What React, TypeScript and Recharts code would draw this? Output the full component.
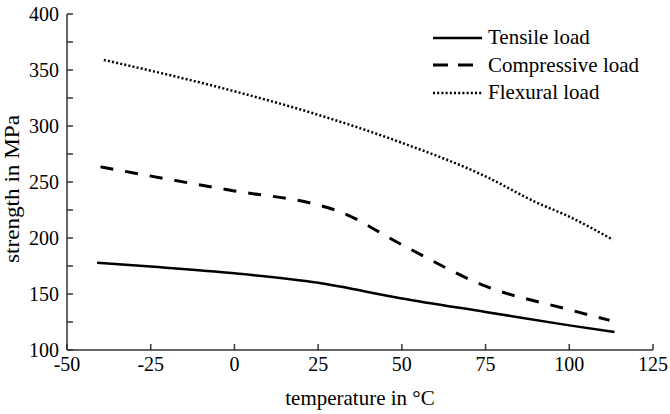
import { LineChart, Line, XAxis, YAxis, Legend, Label } from "recharts"

// temperature (°C) / strength (MPa)
const tensileTemps = [-41, -25, 0, 25, 50, 75, 100, 113.5]
const tensileStrength = [178, 174.5, 168.5, 160, 146, 134, 122, 116]

const compressiveTemps = [-40, 0, 25, 31, 50, 75, 100, 112]
const compressiveStrength = [263.5, 242, 229.5, 224, 194, 157, 136, 126.5]

const flexuralTemps = [-39, 0, 25, 50, 75, 90, 100, 113]
const flexuralStrength = [359, 331, 310, 285, 255, 232, 219, 198.5]

const seriesNames = ["Tensile load", "Compressive load", "Flexural load"]
const xTicks = [-50, -25, 0, 25, 50, 75, 100, 125]
const yTicks = [100, 125, 150, 175, 200, 225, 250, 275, 300, 325, 350, 375, 400]

const toRows = (temps: number[], values: number[]) =>
  temps.map((t, i) => ({ t, v: values[i] }))

const tensile = toRows(tensileTemps, tensileStrength)
const compressive = toRows(compressiveTemps, compressiveStrength)
const flexural = toRows(flexuralTemps, flexuralStrength)

const FONT = "'Liberation Serif', 'Times New Roman', serif"
const AXIS = "#333"
const tickStyle = { fill: "#000", fontSize: 20, fontFamily: FONT }

const lineStyles = [
  { width: 2.5, dash: undefined as string | undefined },
  { width: 3, dash: "13 12" },
  { width: 2.5, dash: "2 2.2" },
]

const legendDash = [undefined, "15 10", "2 2.2"]

function LegendBox() {
  return (
    <div style={{ fontFamily: FONT, fontSize: 21, color: "#000" }}>
      {seriesNames.map((name, i) => (
        <div
          key={name}
          style={{ display: "flex", alignItems: "center", height: 27.5 }}
        >
          <svg width={50} height={10} style={{ display: "block" }}>
            <line
              x1={0}
              x2={49}
              y1={5}
              y2={5}
              stroke="#000"
              strokeWidth={lineStyles[i].width}
              strokeDasharray={legendDash[i]}
            />
          </svg>
          <span style={{ marginLeft: 5, lineHeight: "21px", fontFamily: FONT }}>
            {name}
          </span>
        </div>
      ))}
    </div>
  )
}

// x tick labels sit a little lower than recharts puts them
function XTick(props: any) {
  return (
    <text
      x={props.x}
      y={371}
      textAnchor="middle"
      fontSize={20}
      fontFamily={FONT}
      fill="#000"
    >
      {props.payload.value}
    </text>
  )
}

function YTitle() {
  const cx = 19
  const cy = 189
  return (
    <text
      x={cx}
      y={cy}
      transform={`rotate(-90 ${cx} ${cy})`}
      textAnchor="middle"
      fontSize={20}
      fontFamily={FONT}
      fill="#000"
      textLength={148}
      lengthAdjust="spacingAndGlyphs"
    >
      strength in MPa
    </text>
  )
}

export default function App() {
  return (
    <div style={{ position: "absolute", left: 0, top: 0, fontFamily: FONT }}>
      <LineChart
        width={670}
        height={414}
        margin={{ top: 14, right: 17, bottom: 24, left: 7 }}
        style={{ fontFamily: FONT }}
      >
        <XAxis
          xAxisId="b"
          type="number"
          dataKey="t"
          domain={[-50, 125]}
          ticks={xTicks}
          allowDataOverflow
          stroke={AXIS}
          strokeWidth={1.5}
          tickSize={-6}
          tick={XTick}
          height={40}
        >
          <Label
            value="temperature in °C"
            position="bottom"
            offset={0}
            fill="#000"
            fontSize={21}
            fontFamily={FONT}
          />
        </XAxis>
        <XAxis
          xAxisId="top"
          orientation="top"
          type="number"
          domain={[-50, 125]}
          ticks={xTicks}
          stroke={AXIS}
          strokeWidth={1.5}
          tick={false}
          tickLine={false}
          height={0}
        />
        <YAxis
          yAxisId="l"
          type="number"
          domain={[100, 400]}
          ticks={yTicks}
          interval={0}
          allowDataOverflow
          stroke={AXIS}
          strokeWidth={1.5}
          tickSize={-6}
          tickMargin={14}
          tick={tickStyle}
          tickFormatter={(v: number) => (v % 50 === 0 ? String(v) : "")}
          width={60}
        >
          <Label content={YTitle} />
        </YAxis>
        <YAxis
          yAxisId="r"
          orientation="right"
          type="number"
          domain={[100, 400]}
          stroke={AXIS}
          strokeWidth={1.5}
          tick={false}
          tickLine={false}
          width={0}
        />
        <Legend
          layout="horizontal"
          verticalAlign="middle"
          align="center"
          wrapperStyle={{ position: "absolute", left: 433, top: 24, width: 230 }}
          content={() => <LegendBox />}
        />
        <Line
          xAxisId="b"
          yAxisId="l"
          data={tensile}
          dataKey="v"
          name={seriesNames[0]}
          type="monotone"
          stroke="#000"
          strokeWidth={lineStyles[0].width}
          dot={false}
          activeDot={false}
          isAnimationActive={false}
        />
        <Line
          xAxisId="b"
          yAxisId="l"
          data={compressive}
          dataKey="v"
          name={seriesNames[1]}
          type="monotone"
          stroke="#000"
          strokeWidth={lineStyles[1].width}
          strokeDasharray={lineStyles[1].dash}
          dot={false}
          activeDot={false}
          isAnimationActive={false}
        />
        <Line
          xAxisId="b"
          yAxisId="l"
          data={flexural}
          dataKey="v"
          name={seriesNames[2]}
          type="monotone"
          stroke="#000"
          strokeWidth={lineStyles[2].width}
          strokeDasharray={lineStyles[2].dash}
          dot={false}
          activeDot={false}
          isAnimationActive={false}
        />
      </LineChart>
    </div>
  )
}
